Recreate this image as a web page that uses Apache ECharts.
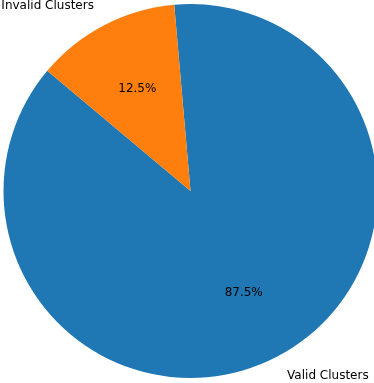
<!DOCTYPE html>
<html>
<head>
<meta charset="utf-8">
<script src="https://cdn.jsdelivr.net/npm/echarts@6/dist/echarts.min.js"></script>
<style>
html,body{margin:0;padding:0;background:#fff;}
#c{width:374px;height:383px;}
</style>
</head>
<body>
<div id="c"></div>
<script>
var categories = ['Valid Clusters', 'Invalid Clusters'];
var values = [87.5, 12.5];
var colors = ['#1f77b4', '#ff7f0e'];
var nameAlign = ['left', 'right'];

var chart = echarts.init(document.getElementById('c'), null, {renderer: 'canvas'});
var R = 187;
var center = [190.5, 191];
var font = 'DejaVu Sans';
var fontSize = 12;

var mctx = document.createElement('canvas').getContext('2d');
mctx.font = fontSize + 'px "' + font + '"';
function textW(s) { return Math.round(mctx.measureText(s).width); }

function nameData() {
  return categories.map(function (n, i) {
    var w = textW(n);
    var pad = nameAlign[i] === 'left' ? [0, 0, 0, w] : [4, w, 0, 0];
    return {name: n, value: values[i], label: {padding: pad}};
  });
}

chart.setOption({
  animation: false,
  series: [
    {
      type: 'pie',
      center: center,
      radius: [0, R],
      startAngle: 140,
      clockwise: false,
      silent: true,
      label: {show: false},
      labelLine: {show: false},
      itemStyle: {borderWidth: 0},
      data: categories.map(function (n, i) {
        return {name: n, value: values[i], itemStyle: {color: colors[i]}};
      })
    },
    {
      type: 'pie',
      center: center,
      radius: [0, R * 1.2],
      startAngle: 140,
      clockwise: false,
      silent: true,
      itemStyle: {color: 'transparent', borderWidth: 0},
      labelLine: {show: false},
      label: {
        show: true,
        position: 'inside',
        color: '#000',
        fontFamily: font,
        fontSize: fontSize,
        formatter: function (p) { return p.percent.toFixed(1) + '%'; }
      },
      data: categories.map(function (n, i) { return {name: n, value: values[i]}; })
    },
    {
      type: 'pie',
      center: center,
      radius: [0, R * 2.2],
      startAngle: 140,
      clockwise: false,
      silent: true,
      itemStyle: {color: 'transparent', borderWidth: 0},
      labelLine: {show: false},
      label: {
        show: true,
        position: 'inside',
        color: '#000',
        fontFamily: font,
        fontSize: fontSize,
        formatter: '{b}'
      },
      data: nameData()
    }
  ]
});
</script>
</body>
</html>
